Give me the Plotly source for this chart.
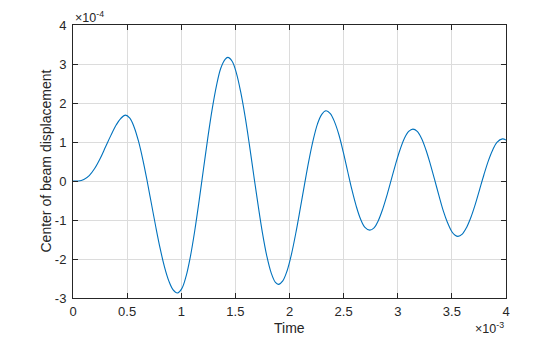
import plotly.graph_objects as go

# Time in units of 1e-3, displacement in units of 1e-4
time_ms = [0.00, 0.05, 0.10, 0.15, 0.20, 0.25, 0.30, 0.35, 0.40, 0.44, 0.485,
           0.525, 0.565, 0.605, 0.645, 0.685, 0.725, 0.765, 0.805, 0.845, 0.885, 0.925, 0.965,
           1.005, 1.045, 1.085, 1.125, 1.165, 1.205, 1.245, 1.285, 1.325, 1.365, 1.405, 1.43,
           1.47, 1.51, 1.55, 1.59, 1.63, 1.67, 1.71, 1.75, 1.79, 1.83, 1.87, 1.898,
           1.938, 1.978, 2.018, 2.058, 2.098, 2.138, 2.178, 2.218, 2.258, 2.298, 2.337,
           2.377, 2.417, 2.457, 2.497, 2.537, 2.577, 2.617, 2.657, 2.697, 2.741,
           2.781, 2.821, 2.861, 2.901, 2.941, 2.981, 3.021, 3.061, 3.101, 3.14,
           3.18, 3.22, 3.26, 3.30, 3.34, 3.38, 3.42, 3.46, 3.50, 3.53, 3.556,
           3.596, 3.636, 3.676, 3.716, 3.756, 3.796, 3.836, 3.876, 3.916, 3.967, 4.00]
disp_e4 = [0.00, 0.00, 0.04, 0.14, 0.32, 0.57, 0.87, 1.17, 1.44, 1.60, 1.69,
           1.61, 1.38, 1.02, 0.55, 0.00, -0.59, -1.18, -1.73, -2.20, -2.56, -2.79, -2.87,
           -2.76, -2.44, -1.93, -1.27, -0.51, 0.30, 1.10, 1.83, 2.44, 2.89, 3.12, 3.17,
           3.07, 2.76, 2.27, 1.65, 0.92, 0.14, -0.62, -1.33, -1.92, -2.35, -2.60, -2.65,
           -2.56, -2.30, -1.88, -1.34, -0.73, -0.10, 0.51, 1.04, 1.46, 1.71, 1.80,
           1.73, 1.51, 1.18, 0.74, 0.25, -0.23, -0.65, -0.98, -1.19, -1.26,
           -1.20, -1.01, -0.72, -0.36, 0.04, 0.44, 0.80, 1.09, 1.27, 1.33,
           1.27, 1.09, 0.80, 0.44, 0.04, -0.37, -0.76, -1.07, -1.30, -1.39, -1.42,
           -1.36, -1.19, -0.93, -0.60, -0.22, 0.16, 0.51, 0.79, 0.99, 1.08, 1.05]

x_ticks = [0, 0.5, 1, 1.5, 2, 2.5, 3, 3.5, 4]
x_tick_text = ["0", "0.5", "1", "1.5", "2", "2.5", "3", "3.5", "4"]
y_ticks = [-3, -2, -1, 0, 1, 2, 3, 4]
y_tick_text = ["-3", "-2", "-1", "0", "1", "2", "3", "4"]

xs = [t * 1e-3 for t in time_ms]
ys = [d * 1e-4 for d in disp_e4]

FONT = "Liberation Sans, Arial, Helvetica, sans-serif"
TXT = "#262626"
GRID = "#dcdcdc"

fig = go.Figure()
fig.add_trace(go.Scatter(x=xs, y=ys, mode="lines",
                         line=dict(color="#0072BD", width=1.1, shape="spline", smoothing=1.0),
                         hoverinfo="skip"))

common = dict(showline=True, linecolor=TXT, linewidth=1, mirror="allticks",
              ticks="inside", ticklen=5, tickcolor=TXT, showgrid=True, gridcolor=GRID,
              gridwidth=1, zeroline=False, automargin=False,
              tickfont=dict(family=FONT, size=13, color=TXT))

fig.update_xaxes(range=[0, 4e-3], tickvals=[v * 1e-3 for v in x_ticks], ticktext=x_tick_text,
                 ticklabelstandoff=1, **common)
fig.update_yaxes(range=[-3e-4, 4e-4], tickvals=[v * 1e-4 for v in y_ticks], ticktext=y_tick_text,
                 ticklabelstandoff=3, **common)

# axis titles
fig.add_annotation(x=0.5, y=0, xref="paper", yref="paper", xanchor="center", yanchor="middle",
                   text="Time", showarrow=False, yshift=-30,
                   font=dict(family=FONT, size=14, color=TXT))
fig.add_annotation(x=0, y=0.5, xref="paper", yref="paper", xanchor="center", yanchor="middle",
                   text="Center of beam displacement", showarrow=False, textangle=-90, xshift=-28,
                   font=dict(family=FONT, size=14, color=TXT))

# exponent labels
fig.add_annotation(x=0, y=1, xref="paper", yref="paper", xanchor="left", yanchor="middle",
                   text="×10<sup>-4</sup>", showarrow=False, yshift=8,
                   font=dict(family=FONT, size=12.5, color=TXT))
fig.add_annotation(x=1, y=0, xref="paper", yref="paper", xanchor="right", yanchor="middle",
                   text="×10<sup>-3</sup>", showarrow=False, yshift=-30,
                   font=dict(family=FONT, size=12.5, color=TXT))

fig.update_layout(width=560, height=337, margin=dict(l=73, r=54, t=25, b=39),
                  paper_bgcolor="white", plot_bgcolor="white", showlegend=False)

fig.write_html("out.html")
